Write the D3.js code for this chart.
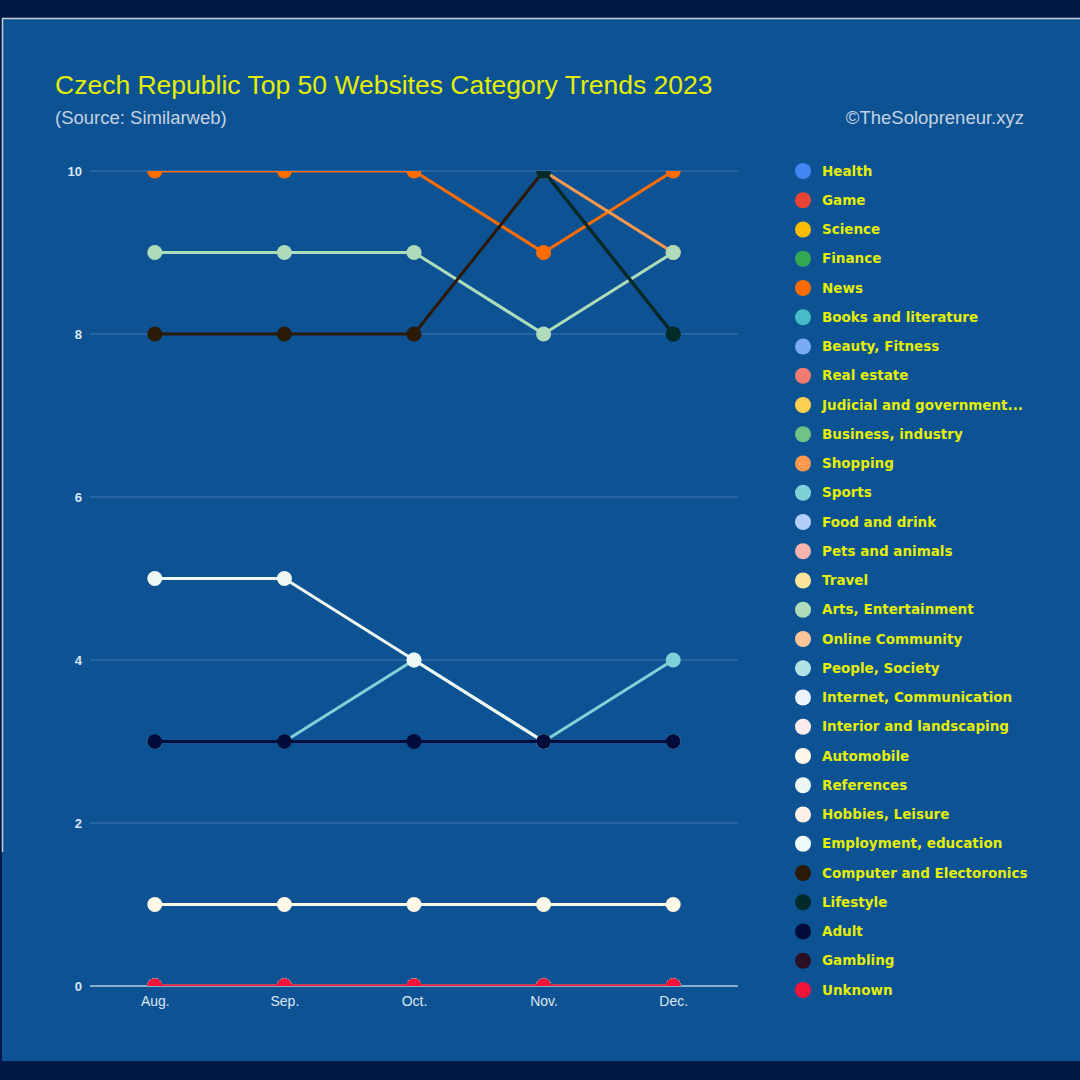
<!DOCTYPE html>
<html>
<head>
<meta charset="utf-8">
<script src="https://cdn.jsdelivr.net/npm/d3@7/dist/d3.min.js"></script>
<style>
  html, body { margin: 0; padding: 0; background: #001a45; }
  svg { display: block; }
</style>
</head>
<body>
<div id="chart"></div>
<script>
// months on the x axis
var months = ["Aug.", "Sep.", "Oct.", "Nov.", "Dec."];
var yTicks = [0, 2, 4, 6, 8, 10];

// categories in legend order, with their colours
var categories = ["Health", "Game", "Science", "Finance", "News", "Books and literature",
  "Beauty, Fitness", "Real estate", "Judicial and government...", "Business, industry",
  "Shopping", "Sports", "Food and drink", "Pets and animals", "Travel", "Arts, Entertainment",
  "Online Community", "People, Society", "Internet, Communication", "Interior and landscaping",
  "Automobile", "References", "Hobbies, Leisure", "Employment, education",
  "Computer and Electoronics", "Lifestyle", "Adult", "Gambling", "Unknown"];

var colors = ["#4285f4", "#ea4335", "#fbbc04", "#34a853", "#ff6d01", "#46bdc6",
  "#7baaf7", "#f07b72", "#fcd04f", "#71c287",
  "#ff994d", "#7ed1d7", "#b3cefb", "#f7b4ae", "#fde49b", "#aedcba",
  "#ffc599", "#b1e2e6", "#ecf3fe", "#fdeceb",
  "#fff8e6", "#eef7f1", "#fff0e6", "#eef9fa",
  "#2b1a05", "#012a2a", "#000c3a", "#2b0f23", "#f2133a"];

// values per category, one per month (null = no point)
var values = [
  [0, 0, 0, 0, 0],          // Health
  [0, 0, 0, 0, 0],          // Game
  [0, 0, 0, 0, 0],          // Science
  [0, 0, 0, 0, 0],          // Finance
  [10, 10, 10, 9, 10],      // News
  [0, 0, 0, 0, 0],          // Books and literature
  [0, 0, 0, 0, 0],          // Beauty, Fitness
  [0, 0, 0, 0, 0],          // Real estate
  [0, 0, 0, 0, 0],          // Judicial
  [0, 0, 0, 0, 0],          // Business, industry
  [null, null, null, 10, 9],// Shopping
  [3, 3, 4, 3, 4],          // Sports
  [0, 0, 0, 0, 0],          // Food and drink
  [0, 0, 0, 0, 0],          // Pets and animals
  [0, 0, 0, 0, 0],          // Travel
  [9, 9, 9, 8, 9],          // Arts, Entertainment
  [0, 0, 0, 0, 0],          // Online Community
  [0, 0, 0, 0, 0],          // People, Society
  [0, 0, 0, 0, 0],          // Internet, Communication
  [0, 0, 0, 0, 0],          // Interior and landscaping
  [1, 1, 1, 1, 1],          // Automobile
  [5, 5, 4, 3, 3],          // References
  [0, 0, 0, 0, 0],          // Hobbies, Leisure
  [0, 0, 0, 0, 0],          // Employment, education
  [8, 8, 8, 10, 8],         // Computer and Electoronics
  [null, null, null, 10, 8],// Lifestyle
  [3, 3, 3, 3, 3],          // Adult
  [0, 0, 0, 0, 0],          // Gambling
  [0, 0, 0, 0, 0]           // Unknown
];

var W = 1080, H = 1080;
var svg = d3.select("#chart").append("svg")
  .attr("width", W).attr("height", H);

// outer frame
svg.append("rect").attr("width", W).attr("height", H).attr("fill", "#001a45");
svg.append("rect")
  .attr("x", 2).attr("y", 18).attr("width", W - 2).attr("height", 1043)
  .attr("fill", "#0d5394");
svg.append("line")
  .attr("x1", 2).attr("x2", W).attr("y1", 18.5).attr("y2", 18.5)
  .attr("stroke", "#c8ccd4").attr("stroke-width", 1.5);
svg.append("line")
  .attr("x1", 2.5).attr("x2", 2.5).attr("y1", 18).attr("y2", 852)
  .attr("stroke", "#c8ccd4").attr("stroke-width", 1.5);

// titles
svg.append("text")
  .attr("x", 55).attr("y", 94)
  .attr("font-family", "Liberation Sans, Arial, sans-serif")
  .attr("font-size", 26.5)
  .attr("fill", "#e4ee00")
  .text("Czech Republic Top 50 Websites Category Trends 2023");
svg.append("text")
  .attr("x", 55).attr("y", 124)
  .attr("font-family", "Liberation Sans, Arial, sans-serif")
  .attr("font-size", 18.5)
  .attr("fill", "#c6d2e2")
  .text("(Source: Similarweb)");
svg.append("text")
  .attr("x", 1024).attr("y", 124)
  .attr("text-anchor", "end")
  .attr("font-family", "Liberation Sans, Arial, sans-serif")
  .attr("font-size", 18.5)
  .attr("fill", "#c6d2e2")
  .text("©TheSolopreneur.xyz");

// scales
var plotLeft = 90, plotRight = 738, plotTop = 171, plotBottom = 986;
var x = d3.scalePoint().domain(months).range([plotLeft, plotRight]).padding(0.5);
var y = d3.scaleLinear().domain([0, 10]).range([plotBottom, plotTop]);

// grid lines
svg.append("g")
  .selectAll("line")
  .data(yTicks.filter(d => d > 0))
  .enter()
  .append("line")
  .attr("x1", plotLeft).attr("x2", plotRight)
  .attr("y1", d => y(d)).attr("y2", d => y(d))
  .attr("stroke", "#3f76ad").attr("stroke-width", 1);

// y axis labels
var yAxis = svg.append("g")
  .attr("transform", "translate(" + plotLeft + ",0)")
  .call(d3.axisLeft(y).tickValues(yTicks).tickSize(0).tickPadding(8));
yAxis.select(".domain").remove();
yAxis.selectAll("text")
  .attr("fill", "#dce6f1")
  .attr("font-family", "Liberation Sans, Arial, sans-serif")
  .attr("font-size", 13)
  .attr("font-weight", "bold");

// x axis
var xAxis = svg.append("g")
  .attr("transform", "translate(0," + plotBottom + ")")
  .call(d3.axisBottom(x).tickSize(0).tickPadding(10));
xAxis.select(".domain")
  .attr("stroke", "#b4cce2").attr("stroke-width", 1.5)
  .attr("d", "M" + plotLeft + ",0H" + plotRight);
xAxis.selectAll("text")
  .attr("fill", "#dce6f1")
  .attr("font-family", "Liberation Sans, Arial, sans-serif")
  .attr("font-size", 14);

// clip the marks to the plot area
svg.append("clipPath").attr("id", "plotclip")
  .append("rect")
  .attr("x", plotLeft).attr("y", plotTop)
  .attr("width", plotRight - plotLeft).attr("height", plotBottom - plotTop);

var series = categories.map((c, i) => ({
  name: c,
  color: colors[i],
  points: values[i].map((v, j) => ({ m: months[j], v: v }))
}));

var line = d3.line()
  .defined(d => d.v != null)
  .x(d => x(d.m))
  .y(d => y(d.v));

var plot = svg.append("g").attr("clip-path", "url(#plotclip)");

series.forEach(s => {
  plot.append("path")
    .datum(s.points)
    .attr("fill", "none")
    .attr("stroke", s.color)
    .attr("stroke-width", 3)
    .attr("d", line);
  plot.append("g")
    .selectAll("circle")
    .data(s.points.filter(d => d.v != null))
    .enter()
    .append("circle")
    .attr("cx", d => x(d.m))
    .attr("cy", d => y(d.v))
    .attr("r", 7.5)
    .attr("fill", s.color);
});

// legend
var leg = svg.append("g");
var ly = d3.scalePoint().domain(categories).range([171, 990]);
var item = leg.selectAll("g")
  .data(series)
  .enter()
  .append("g")
  .attr("transform", d => "translate(803," + ly(d.name) + ")");
item.append("circle")
  .attr("r", 8)
  .attr("fill", d => d.color);
item.append("text")
  .attr("x", 19)
  .attr("dy", "0.35em")
  .attr("font-family", "DejaVu Sans, Verdana, sans-serif")
  .attr("font-size", 13.5)
  .attr("font-weight", "bold")
  .attr("fill", "#e4ee00")
  .text(d => d.name);
</script>
</body>
</html>
